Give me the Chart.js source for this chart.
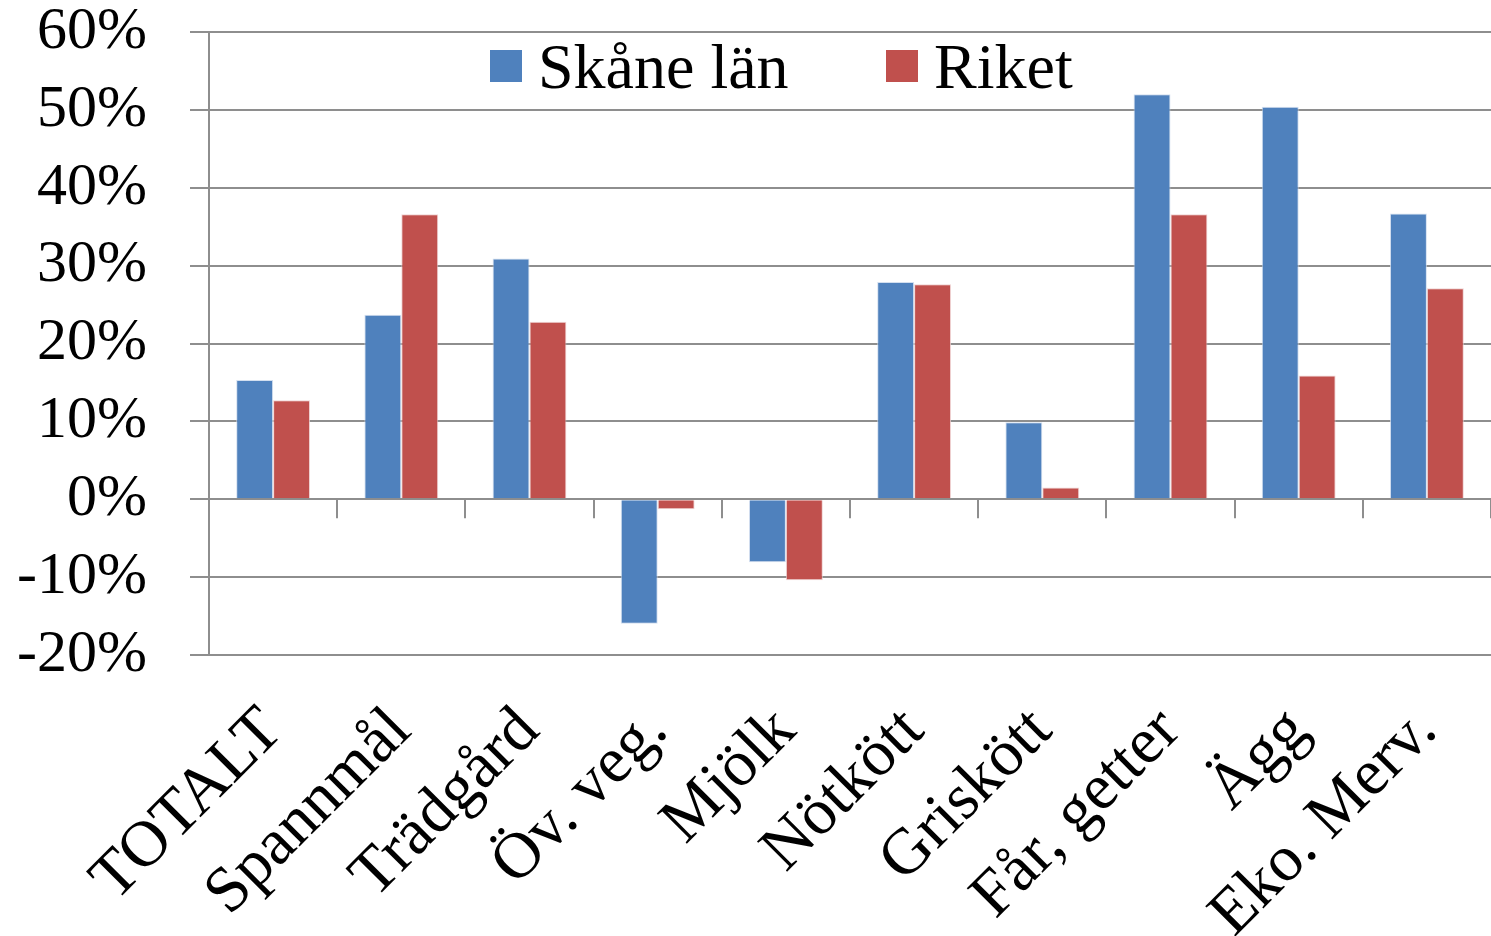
<!DOCTYPE html>
<html>
<head>
<meta charset="utf-8">
<script src="https://cdn.jsdelivr.net/npm/chart.js@4"></script>
<style>
  html, body { margin: 0; padding: 0; background: #fff; }
  #wrap { width: 1491px; height: 936px; }
</style>
</head>
<body>
<div id="wrap"><canvas id="myChart"></canvas></div>
<script>
const categories = ['TOTALT', 'Spannmål', 'Trädgård', 'Öv. veg.', 'Mjölk', 'Nötkött', 'Griskött', 'Får, getter', 'Ägg', 'Eko. Merv.'];
const skane = [15.3, 23.7, 30.9, -16.0, -8.1, 27.9, 9.9, 52.0, 50.4, 36.7];
const riket = [12.7, 36.6, 22.8, -1.3, -10.4, 27.6, 1.5, 36.6, 15.9, 27.1];
const seriesNames = ['Skåne län', 'Riket'];
const colors = ['#4F81BD', '#C0504D'];
const yTicks = [-20, -10, 0, 10, 20, 30, 40, 50, 60];

const gridGray = '#8e8e8e';
const serif = '"Liberation Serif", "Times New Roman", serif';

// legend drawn inside the plot, tick marks on the zero line
const extras = {
  id: 'extras',
  afterDraw(chart) {
    const ctx = chart.ctx;
    const x = chart.scales.x, y = chart.scales.y;
    const y0 = y.getPixelForValue(0);
    ctx.save();
    ctx.strokeStyle = gridGray;
    ctx.lineWidth = 2;
    const w = (x.right - x.left) / categories.length;
    for (let i = 0; i <= categories.length; i++) {
      const px = Math.round(x.left + i * w);
      ctx.beginPath();
      ctx.moveTo(px, y0);
      ctx.lineTo(px, y0 + 19);
      ctx.stroke();
    }
    // legend
    ctx.font = '64px ' + serif;
    ctx.textBaseline = 'alphabetic';
    const lx = [490, 886];
    seriesNames.forEach((n, i) => {
      ctx.fillStyle = colors[i];
      ctx.fillRect(lx[i], 50, 32, 32);
      ctx.fillStyle = '#000';
      ctx.fillText(n, lx[i] + 48, 88);
    });
    ctx.restore();
  }
};

new Chart(document.getElementById('myChart'), {
  type: 'bar',
  data: {
    labels: categories,
    datasets: [
      { label: seriesNames[0], data: skane, backgroundColor: colors[0], borderColor: 'rgba(200,215,235,0.8)', borderWidth: 1, categoryPercentage: 0.576, barPercentage: 1 },
      { label: seriesNames[1], data: riket, backgroundColor: colors[1], borderColor: 'rgba(235,200,200,0.8)', borderWidth: 1, categoryPercentage: 0.576, barPercentage: 1 }
    ]
  },
  options: {
    responsive: true,
    maintainAspectRatio: false,
    animation: false,
    layout: { padding: { top: 32, right: 0, left: 0, bottom: 0 } },
    plugins: { legend: { display: false }, tooltip: { enabled: false } },
    scales: {
      x: {
        grid: { display: false, drawTicks: false },
        border: { display: false },
        ticks: {
          minRotation: 45, maxRotation: 45, autoSkip: false,
          padding: 38,
          color: '#000',
          font: { family: serif, size: 65 }
        },
        afterFit(scale) {
          scale.height = 281;
          scale.paddingLeft = 0;
          scale.paddingRight = 0;
        }
      },
      y: {
        min: -20, max: 60,
        afterBuildTicks(scale) { scale.ticks = yTicks.map(v => ({ value: v })); },
        grid: { color: gridGray, lineWidth: 2, tickLength: 19 },
        border: { color: gridGray, width: 2 },
        ticks: {
          autoSkip: false,
          padding: 43,
          color: '#000',
          font: { family: serif, size: 60 },
          callback: v => v + '%'
        },
        afterFit(scale) {
          scale.width = 209;
          scale.paddingTop = 0;
          scale.paddingBottom = 0;
        }
      }
    }
  },
  plugins: [extras]
});
</script>
</body>
</html>
